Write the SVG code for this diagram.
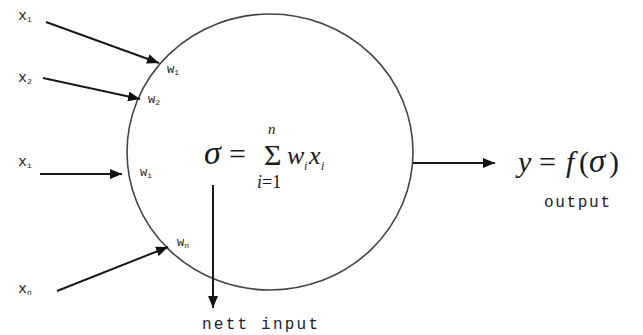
<svg xmlns="http://www.w3.org/2000/svg" width="643" height="335" viewBox="0 0 643 335">
<style>
.ln{stroke:#1a1a1a;stroke-width:2;fill:none}
.lbl{font-family:"Liberation Mono",monospace;fill:#222}
.sub{font-size:8px}
.m{font-family:"Liberation Serif",serif;fill:#1a1a1a}
.it{font-style:italic}
</style>
<defs>
<marker id="ah" viewBox="0 0 12 10" refX="12" refY="5" markerWidth="12" markerHeight="10" markerUnits="userSpaceOnUse" orient="auto">
<path d="M0,0 L12,5 L0,10 z" fill="#111"/>
</marker>
</defs>
<rect width="643" height="335" fill="#fff"/>
<g id="neuron">
<ellipse cx="270" cy="152" rx="143" ry="138" fill="none" stroke="#444" stroke-width="1.6"/>
<text class="m it" font-size="34" x="204" y="164">σ</text>
<text class="m" font-size="30" x="229" y="164">=</text>
<text class="m" font-size="30" x="264" y="165">Σ</text>
<text class="m it" font-size="15" x="268" y="134">n</text>
<text class="m" font-size="18" x="257" y="188"><tspan class="it">i</tspan>=1</text>
<text class="m it" font-size="26" x="287" y="164">w</text>
<text class="m it" font-size="12" x="304" y="170">i</text>
<text class="m it" font-size="26" x="309" y="164">x</text>
<text class="m it" font-size="12" x="321" y="170">i</text>
</g>
<g id="inputs">
<text class="lbl" font-size="15" x="18" y="20">x<tspan class="sub" dy="2">1</tspan></text>
<text class="lbl" font-size="15" x="18" y="82">x<tspan class="sub" dy="2">2</tspan></text>
<text class="lbl" font-size="15" x="18" y="166">x<tspan class="sub" dy="2">i</tspan></text>
<text class="lbl" font-size="15" x="18" y="293">x<tspan class="sub" dy="2">n</tspan></text>
</g>
<g id="weights">
<text class="lbl" font-size="12" x="167" y="73">w<tspan class="sub" dy="2">1</tspan></text>
<text class="lbl" font-size="12" x="148" y="103">w<tspan class="sub" dy="2">2</tspan></text>
<text class="lbl" font-size="12" x="140" y="176">w<tspan class="sub" dy="2">i</tspan></text>
<text class="lbl" font-size="12" x="177" y="246">w<tspan class="sub" dy="2">n</tspan></text>
</g>
<g id="output">
<text class="m" font-size="30" y="172"><tspan class="it" x="518">y</tspan><tspan x="539">=</tspan><tspan class="it" x="566">f</tspan><tspan x="579">(</tspan><tspan class="it" x="589" font-size="33">σ</tspan><tspan x="609">)</tspan></text>
<text class="lbl" font-size="16" x="544" y="207" textLength="66">output</text>
</g>
<g id="nett">
<text class="lbl" font-size="16" x="202" y="329" textLength="116">nett input</text>
</g>
<g id="connectors">
<line class="ln" x1="46" y1="22" x2="159" y2="63" marker-end="url(#ah)"/>
<line class="ln" x1="43" y1="78" x2="140" y2="99" marker-end="url(#ah)"/>
<line class="ln" x1="40" y1="174" x2="122" y2="174" marker-end="url(#ah)"/>
<line class="ln" x1="57" y1="291" x2="168" y2="247" marker-end="url(#ah)"/>
<line class="ln" x1="413" y1="163" x2="495" y2="163" marker-end="url(#ah)"/>
<line class="ln" x1="213" y1="185" x2="213" y2="308" marker-end="url(#ah)"/>
</g>
</svg>
